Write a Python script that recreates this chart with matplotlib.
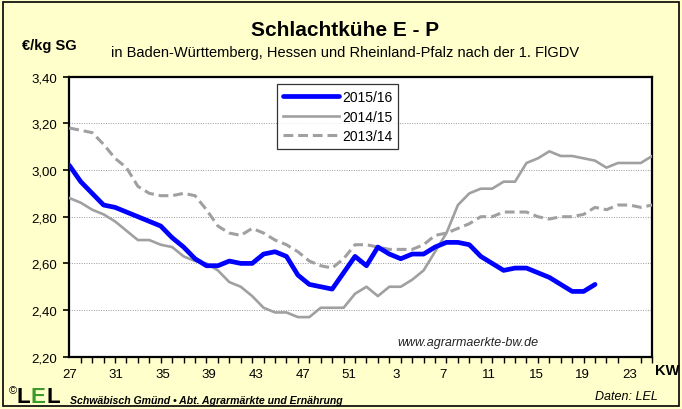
import numpy as np
import matplotlib
matplotlib.use("Agg")
from matplotlib import pyplot as plt
from matplotlib.patches import Rectangle

plt.rcParams['font.family'] = ['Liberation Sans', 'DejaVu Sans']

# Kalenderwochen 27/2015 .. 25/2016 (2015 mit KW 53)
kw = list(range(27, 54)) + list(range(1, 26))
kw_labels = ["27", "31", "35", "39", "43", "47", "51", "3", "7", "11", "15", "19", "23"]
y_ticks = [2.20, 2.40, 2.60, 2.80, 3.00, 3.20, 3.40]

s2015_16 = [3.02, 2.95, 2.90, 2.85, 2.84, 2.82, 2.80, 2.78, 2.76, 2.71,
            2.67, 2.62, 2.59, 2.59, 2.61, 2.60, 2.60, 2.64, 2.65, 2.63,
            2.55, 2.51, 2.50, 2.49, 2.56, 2.63, 2.59, 2.67, 2.64, 2.62,
            2.64, 2.64, 2.67, 2.69, 2.69, 2.68, 2.63, 2.60, 2.57, 2.58,
            2.58, 2.56, 2.54, 2.51, 2.48, 2.48, 2.51]
s2014_15 = [2.88, 2.86, 2.83, 2.81, 2.78, 2.74, 2.70, 2.70, 2.68, 2.67,
            2.63, 2.61, 2.60, 2.57, 2.52, 2.50, 2.46, 2.41, 2.39, 2.39,
            2.37, 2.37, 2.41, 2.41, 2.41, 2.47, 2.50, 2.46, 2.50, 2.50,
            2.53, 2.57, 2.65, 2.73, 2.85, 2.90, 2.92, 2.92, 2.95, 2.95,
            3.03, 3.05, 3.08, 3.06, 3.06, 3.05, 3.04, 3.01, 3.03, 3.03,
            3.03, 3.06]
s2013_14 = [3.18, 3.17, 3.16, 3.11, 3.05, 3.01, 2.93, 2.90, 2.89, 2.89,
            2.90, 2.89, 2.83, 2.76, 2.73, 2.72, 2.75, 2.73, 2.70, 2.68,
            2.65, 2.61, 2.59, 2.58, 2.62, 2.68, 2.68, 2.67, 2.66, 2.66,
            2.66, 2.68, 2.72, 2.73, 2.75, 2.77, 2.80, 2.80, 2.82, 2.82,
            2.82, 2.80, 2.79, 2.80, 2.80, 2.81, 2.84, 2.83, 2.85, 2.85,
            2.84, 2.85]

bg = '#FFFFCC'
gray = '#A0A0A0'

fig = plt.figure(figsize=(6.82, 4.10), dpi=100, facecolor=bg)
fig.patches.append(Rectangle((3 / 682, 3 / 410), 676 / 682, 404 / 410,
                             transform=fig.transFigure, fill=False,
                             edgecolor='black', linewidth=1.2))

ax = fig.add_axes([69.3 / 682, 1 - 357.8 / 410, 582.9 / 682, 280.2 / 410])
ax.set_facecolor('white')

x = np.arange(len(kw))
ax.plot(x, s2013_14, color=gray, lw=2.2, ls=(0, (3.2, 1.6)), label='2013/14', zorder=3)
ax.plot(x, s2014_15, color=gray, lw=1.9, label='2014/15', zorder=3)
ax.plot(x[:len(s2015_16)], s2015_16, color='#0000FF', lw=3.4, label='2015/16',
        solid_capstyle='round', solid_joinstyle='round', zorder=4)

ax.set_xlim(0, len(kw) - 1)
ax.set_ylim(y_ticks[0], y_ticks[-1])

ax.set_yticks(y_ticks)
ax.set_yticklabels([f"{v:.2f}".replace('.', ',') for v in y_ticks], fontsize=9.5)
ax.tick_params(axis='y', direction='out', length=4, width=1.2, pad=5)

label_pos = np.linspace(0, 49, len(kw_labels))
ax.set_xticks(label_pos)
ax.set_xticklabels(kw_labels, fontsize=9.5)
ax.set_xticks(x, minor=True)
ax.tick_params(axis='x', which='major', length=0, pad=8)
ax.tick_params(axis='x', which='minor', direction='out', length=4, width=1.0)

for v in y_ticks[1:-1]:
    ax.axhline(v, color='#9A9A9A', lw=0.7, ls=(0, (1, 1.5)), zorder=1)

for sp in ax.spines.values():
    sp.set_linewidth(1.6)
    sp.set_color('black')

handles, labels = ax.get_legend_handles_labels()
leg = ax.legend(handles[::-1], labels[::-1], loc='upper left',
                bbox_to_anchor=(0.357, 0.972), fontsize=10, frameon=True,
                fancybox=False, handlelength=4.0, borderpad=0.4,
                labelspacing=0.4, handletextpad=0.3, borderaxespad=0)
leg.get_frame().set_edgecolor('black')
leg.get_frame().set_linewidth(0.9)

fig.text(345 / 682, 1 - 30 / 410, 'Schlachtkühe E - P', ha='center', va='center',
         fontsize=15, fontweight='bold')
fig.text(345 / 682, 1 - 53 / 410,
         'in Baden-Württemberg, Hessen und Rheinland-Pfalz nach der 1. FlGDV',
         ha='center', va='center', fontsize=10.5)
fig.text(22 / 682, 1 - 46 / 410, '€/kg SG', ha='left', va='center',
         fontsize=10.5, fontweight='bold')
fig.text(667 / 682, 1 - 371 / 410, 'KW', ha='center', va='center',
         fontsize=10.5, fontweight='bold')
ax.text(0.684, 0.053, 'www.agrarmaerkte-bw.de', transform=ax.transAxes,
        ha='center', va='center', fontsize=9, style='italic', color='#222222')

fig.text(9 / 682, 1 - 391 / 410, '©', ha='left', va='center', fontsize=8)
fig.text(16 / 682, 1 - 398 / 410, 'L', ha='left', va='center', fontsize=16,
         fontweight='bold')
fig.text(30 / 682, 1 - 398 / 410, 'E', ha='left', va='center', fontsize=16,
         fontweight='bold', color='#3A9A2A')
fig.text(46 / 682, 1 - 398 / 410, 'L', ha='left', va='center', fontsize=16,
         fontweight='bold')
fig.text(70 / 682, 1 - 401 / 410, 'Schwäbisch Gmünd • Abt. Agrarmärkte und Ernährung',
         ha='left', va='center', fontsize=7.6, style='italic', fontweight='bold')
fig.text(658 / 682, 1 - 397 / 410, 'Daten: LEL', ha='right', va='center',
         fontsize=9, style='italic')

fig.savefig('out.png', dpi=100, facecolor=bg)
